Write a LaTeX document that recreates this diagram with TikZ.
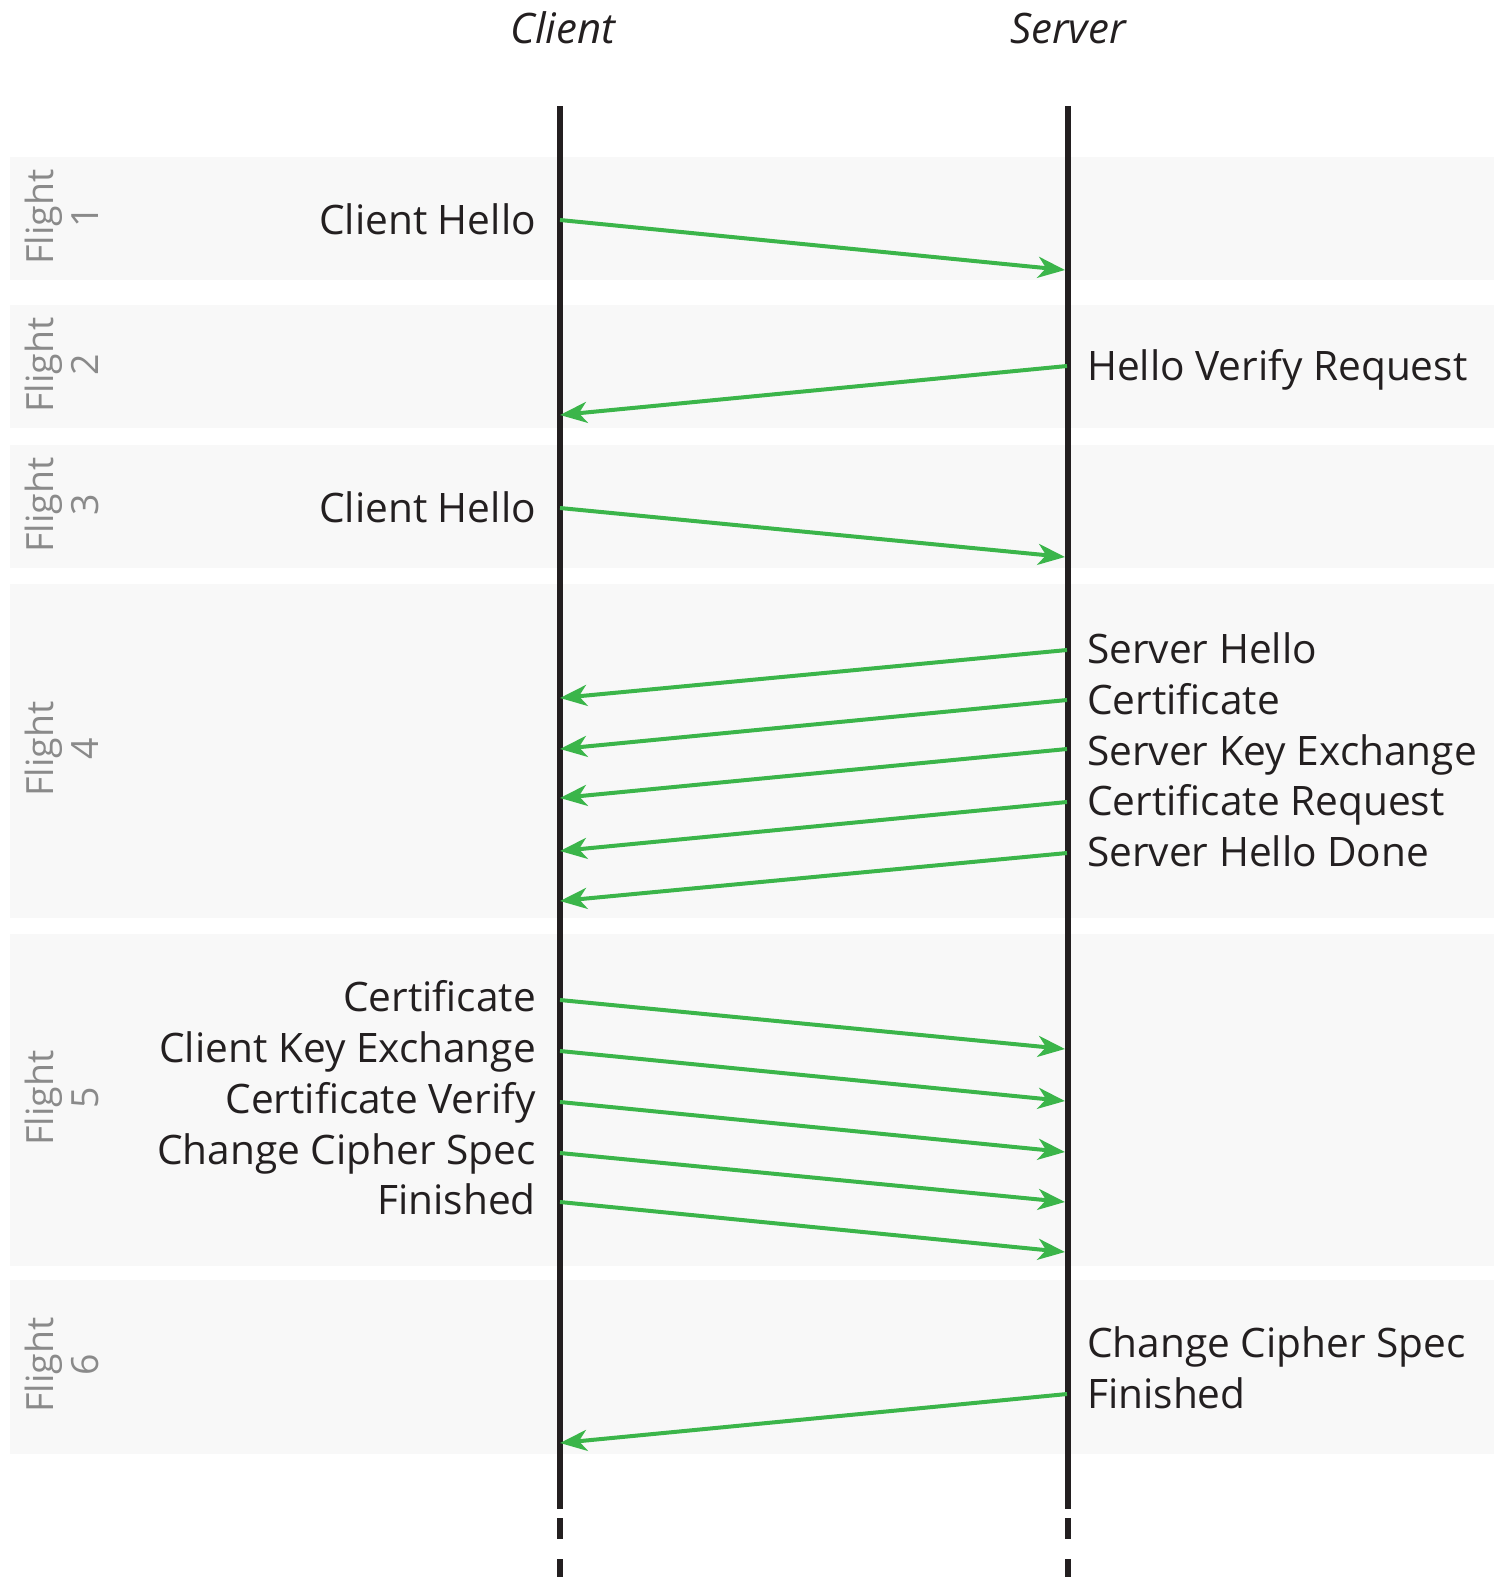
\documentclass[tikz,border=0pt]{standalone}
\usepackage{fontspec}
\setmainfont{Open Sans}
\usetikzlibrary{arrows.meta}
\definecolor{ink}{HTML}{231F20}
\definecolor{msg}{HTML}{3BB54A}
\definecolor{band}{HTML}{F8F8F8}
\definecolor{flightgray}{HTML}{8A8A8A}

\begin{document}
\begin{tikzpicture}[x=1pt,y=-1pt,
  lbl/.style={inner sep=0pt, text=ink, font=\fontsize{40.6}{51}\selectfont},
  lblL/.style={lbl, anchor=base east},
  lblR/.style={lbl, anchor=base west},
  msgarrow/.style={draw=msg, line width=4pt, -{Stealth[length=27pt,width=21pt,inset=8pt]}},
  lifeline/.style={draw=ink, line width=5.5pt},
  flightband/.style={fill=band, draw=none},
  flightlbl/.style={rotate=90, align=center, text=flightgray, inner sep=0pt, font=\fontsize{37.5}{45}\selectfont},
  head/.style={inner sep=0pt, anchor=base, text=ink, font=\fontsize{42}{48}\selectfont\itshape}
]
\useasboundingbox[fill=white] (0,0) rectangle (1494,1577);

% flight bands
\fill[flightband] (10,157) rectangle (1494,280);
\fill[flightband] (10,305) rectangle (1494,428);
\fill[flightband] (10,445) rectangle (1494,568);
\fill[flightband] (10,584) rectangle (1494,918);
\fill[flightband] (10,934) rectangle (1494,1266);
\fill[flightband] (10,1280) rectangle (1494,1454);

% flight labels
\node[flightlbl] (f1) at (62,217) {Flight\\1};
\node[flightlbl] (f2) at (62,365) {Flight\\2};
\node[flightlbl] (f3) at (62,505) {Flight\\3};
\node[flightlbl] (f4) at (62,749) {Flight\\4};
\node[flightlbl] (f5) at (62,1098) {Flight\\5};
\node[flightlbl] (f6) at (62,1365) {Flight\\6};

% endpoints
\node[head] (client) at (563,43) {Client};
\node[head] (server) at (1068,43) {Server};

% message labels
\node[lblL] (m1) at (536,234) {Client Hello};
\node[lblR] (m2) at (1087,380) {Hello Verify Request};
\node[lblL] (m3) at (536,522) {Client Hello};
\node[lblR] (m4a) at (1087,663) {Server Hello};
\node[lblR] (m4b) at (1087,714) {Certificate};
\node[lblR] (m4c) at (1087,765) {Server Key Exchange};
\node[lblR] (m4d) at (1087,815) {Certificate Request};
\node[lblR] (m4e) at (1087,866) {Server Hello Done};
\node[lblL] (m5a) at (536,1011) {Certificate};
\node[lblL] (m5b) at (536,1062) {Client Key Exchange};
\node[lblL] (m5c) at (536,1113) {Certificate Verify};
\node[lblL] (m5d) at (536,1164) {Change Cipher Spec};
\node[lblL] (m5e) at (536,1214) {Finished};
\node[lblR] (m6a) at (1087,1357) {Change Cipher Spec};
\node[lblR] (m6b) at (1087,1408) {Finished};

% message end points on the lifelines
\coordinate (c1) at (560,220);  \coordinate (s1) at (1065,270);
\coordinate (s2) at (1067,366); \coordinate (c2) at (560,415);
\coordinate (c3) at (560,508);  \coordinate (s3) at (1065,557);
\coordinate (s4a) at (1067,650); \coordinate (c4a) at (560,698);
\coordinate (s4b) at (1067,700); \coordinate (c4b) at (560,749);
\coordinate (s4c) at (1067,749); \coordinate (c4c) at (560,798);
\coordinate (s4d) at (1067,802); \coordinate (c4d) at (560,851);
\coordinate (s4e) at (1067,853); \coordinate (c4e) at (560,901);
\coordinate (c5a) at (560,1000); \coordinate (s5a) at (1065,1049);
\coordinate (c5b) at (560,1051); \coordinate (s5b) at (1065,1101);
\coordinate (c5c) at (560,1102); \coordinate (s5c) at (1065,1152);
\coordinate (c5d) at (560,1153); \coordinate (s5d) at (1065,1202);
\coordinate (c5e) at (560,1202); \coordinate (s5e) at (1065,1252);
\coordinate (s6) at (1067,1394); \coordinate (c6) at (560,1443);

% lifelines, continuing as dashes below
\coordinate (ctop) at (560,106); \coordinate (cbot) at (560,1509);
\coordinate (stop) at (1068,106); \coordinate (sbot) at (1068,1509);
\draw[lifeline] (ctop) -- (cbot);
\draw[lifeline] (stop) -- (sbot);
\draw[lifeline] (560,1518) -- (560,1539) (560,1559) -- (560,1577);
\draw[lifeline] (1068,1518) -- (1068,1539) (1068,1559) -- (1068,1577);

% messages
\draw[msgarrow] (c1) -- (s1);
\draw[msgarrow] (s2) -- (c2);
\draw[msgarrow] (c3) -- (s3);
\draw[msgarrow] (s4a) -- (c4a);
\draw[msgarrow] (s4b) -- (c4b);
\draw[msgarrow] (s4c) -- (c4c);
\draw[msgarrow] (s4d) -- (c4d);
\draw[msgarrow] (s4e) -- (c4e);
\draw[msgarrow] (c5a) -- (s5a);
\draw[msgarrow] (c5b) -- (s5b);
\draw[msgarrow] (c5c) -- (s5c);
\draw[msgarrow] (c5d) -- (s5d);
\draw[msgarrow] (c5e) -- (s5e);
\draw[msgarrow] (s6) -- (c6);
\end{tikzpicture}
\end{document}
